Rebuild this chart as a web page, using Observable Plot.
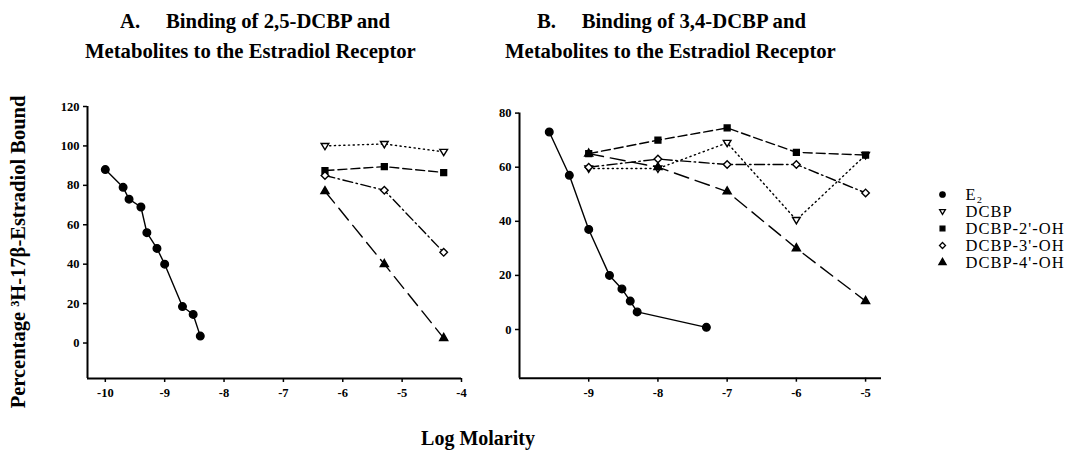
<!DOCTYPE html>
<html><head><meta charset="utf-8">
<script src="https://cdn.jsdelivr.net/npm/d3@7"></script>
<script src="https://cdn.jsdelivr.net/npm/@observablehq/plot@0.6"></script>
<style>
body{margin:0;background:#fff;}
#fig{position:relative;width:1087px;height:458px;font-family:"Liberation Serif","Times New Roman",serif;color:#000;background:#fff;overflow:hidden;}
.t{position:absolute;font-weight:bold;font-size:20px;white-space:pre;line-height:1;}
.title{font-size:22px;transform:scaleX(0.94);transform-origin:0 0;}
</style></head><body><div id="fig"></div>
<script>
// ---- data ----
const seriesNames = ["E2", "DCBP", "DCBP-2'-OH", "DCBP-3'-OH", "DCBP-4'-OH"];
const legendLabels = ["E\u2082", "DCBP", "DCBP-2'-OH", "DCBP-3'-OH", "DCBP-4'-OH"];

// Panel A: 2,5-DCBP
const xA_E2 = [-10, -9.7, -9.6, -9.4, -9.3, -9.13, -9, -8.7, -8.52, -8.4];
const yA_E2 = [88, 79, 73, 69, 56, 48, 40, 18.5, 14.5, 3.5];
const xA_met = [-6.3, -5.3, -4.3];
const yA_DCBP = [100, 101, 97];
const yA_2OH = [87.5, 89.5, 86.5];
const yA_3OH = [85, 77.5, 46];
const yA_4OH = [77, 40, 2.5];

// Panel B: 3,4-DCBP
const xB_E2 = [-9.57, -9.28, -9, -8.7, -8.52, -8.4, -8.3, -7.3];
const yB_E2 = [73, 57, 37, 20, 15, 10.5, 6.5, 0.8];
const xB_met = [-9, -8, -7, -6, -5];
const yB_DCBP = [59.5, 59.5, 69, 40.5, 64.5];
const yB_2OH = [65, 70, 74.5, 65.5, 64.5];
const yB_3OH = [60, 63, 61, 61, 50.5];
const yB_4OH = [65, 60, 51, 30, 10.5];

const ticksAX = [-10, -9, -8, -7, -6, -5, -4];
const ticksAY = [0, 20, 40, 60, 80, 100, 120];
const ticksBX = [-9, -8, -7, -6, -5];
const ticksBY = [0, 20, 40, 60, 80];

// ---- styles ----
const triDown = {
  draw(ctx, size) {
    const s = Math.sqrt(size) * 0.6;
    ctx.moveTo(-s, -s * 0.65);
    ctx.lineTo(s, -s * 0.65);
    ctx.lineTo(0, s * 1.0);
    ctx.closePath();
  }
};
const styles = {
  "E2": {symbol: "circle", fill: "black", dash: null, r: 3.8},
  "DCBP": {symbol: triDown, fill: "white", dash: "1.2,3.5", r: 3.6},
  "DCBP-2'-OH": {symbol: "square", fill: "black", dash: "9,4", r: 3.3},
  "DCBP-3'-OH": {symbol: "diamond2", fill: "white", dash: "10,3.5,1.5,3.5", r: 3.4},
  "DCBP-4'-OH": {symbol: "triangle", fill: "black", dash: "15,7", r: 3.0}
};

const rows = (xs, ys, s) => xs.map((x, i) => ({series: s, x, y: ys[i]}));
const panelA = {
  "E2": rows(xA_E2, yA_E2, "E2"),
  "DCBP": rows(xA_met, yA_DCBP, "DCBP"),
  "DCBP-2'-OH": rows(xA_met, yA_2OH, "DCBP-2'-OH"),
  "DCBP-3'-OH": rows(xA_met, yA_3OH, "DCBP-3'-OH"),
  "DCBP-4'-OH": rows(xA_met, yA_4OH, "DCBP-4'-OH")
};
const panelB = {
  "E2": rows(xB_E2, yB_E2, "E2"),
  "DCBP": rows(xB_met, yB_DCBP, "DCBP"),
  "DCBP-2'-OH": rows(xB_met, yB_2OH, "DCBP-2'-OH"),
  "DCBP-3'-OH": rows(xB_met, yB_3OH, "DCBP-3'-OH"),
  "DCBP-4'-OH": rows(xB_met, yB_4OH, "DCBP-4'-OH")
};

function seriesMarks(panel) {
  const marks = [];
  for (const s of seriesNames) {
    const st = styles[s];
    marks.push(Plot.line(panel[s], {x: "x", y: "y", stroke: "black", strokeWidth: 1.4, strokeDasharray: st.dash}));
  }
  for (const s of seriesNames) {
    const st = styles[s];
    marks.push(Plot.dot(panel[s], {x: "x", y: "y", symbol: st.symbol, r: st.r, fill: st.fill, stroke: "black", strokeWidth: 1.4}));
  }
  return marks;
}

const font = '"Liberation Serif","Times New Roman",serif';
function panelPlot(panel, opts) {
  return Plot.plot({
    width: opts.width, height: opts.height,
    marginLeft: opts.ml, marginRight: opts.mr, marginTop: opts.mt, marginBottom: opts.mb,
    style: {fontFamily: font, fontSize: "12.5px", fontWeight: "bold", background: "transparent", overflow: "visible"},
    x: {domain: opts.xd},
    y: {domain: opts.yd},
    marks: [
      Plot.axisY({ticks: opts.yt, tickSize: 4, tickPadding: 4, label: null, strokeWidth: 1.5, fontSize: 12.5}),
      Plot.axisX({ticks: opts.xt, tickSize: 4, tickPadding: 6, label: null, strokeWidth: 1.5, fontSize: 12.5, tickFormat: d => String(d)}),
      Plot.ruleX([opts.xd[0]], {strokeWidth: 2}),
      Plot.ruleY([opts.yd[0]], {strokeWidth: 2}),
      ...seriesMarks(panel)
    ]
  });
}

const fig = document.getElementById("fig");
function place(el, left, top) {
  el.style.position = "absolute";
  el.style.left = left + "px";
  el.style.top = top + "px";
  fig.appendChild(el);
}

const pA = panelPlot(panelA, {width: 440, height: 310, ml: 47, mr: 19, mt: 10, mb: 28,
  xd: [-10.3, -4], yd: [-18, 120], xt: ticksAX, yt: ticksAY});
place(pA, 40, 96);

const pB = panelPlot(panelB, {width: 420, height: 310, ml: 39, mr: 19, mt: 16.6, mb: 28.3,
  xd: [-10, -4.77], yd: [-18, 80], xt: ticksBX, yt: ticksBY});
place(pB, 480, 96);

// legend
const legendRows = seriesNames.map((s, i) => ({series: s, label: legendLabels[i]}));
const legend = Plot.plot({
  width: 162, height: 120, marginLeft: 17, marginRight: 10, marginTop: 16, marginBottom: 16,
  style: {fontFamily: font, background: "transparent", overflow: "visible", letterSpacing: "1px"},
  x: {domain: [0, 1], axis: null},
  y: {type: "point", domain: seriesNames, axis: null},
  symbol: {domain: seriesNames, range: seriesNames.map(s => styles[s].symbol)},
  marks: [
    Plot.dot(legendRows, {x: () => 0, y: "series", symbol: "series", r: 2.7, stroke: "black", strokeWidth: 1.3,
      fill: d => styles[d.series].fill}),
    Plot.text(legendRows, {x: () => 0, y: "series", text: "label", dx: 23, textAnchor: "start", fontSize: 16.5, fill: "black"})
  ]
});
place(legend, 925, 168);

// titles
function addText(txt, left, top, cls, extra) {
  const d = document.createElement("div");
  d.className = cls;
  d.textContent = txt;
  d.style.left = left + "px";
  d.style.top = top + "px";
  if (extra) Object.assign(d.style, extra);
  fig.appendChild(d);
  return d;
}
addText("A.     Binding of 2,5-DCBP and", 120, 10, "t title");
addText("Metabolites to the Estradiol Receptor", 85, 40, "t title");
addText("B.     Binding of 3,4-DCBP and", 537, 10, "t title");
addText("Metabolites to the Estradiol Receptor", 505, 40, "t title");
addText("Log Molarity", 478, 428, "t", {transform: "translateX(-50%)"});
addText("Percentage \u00B3H-17\u03B2-Estradiol Bound", 18, 252, "t",
  {fontSize: "20.5px", transform: "translate(-50%,-50%) rotate(-90deg)"});
</script>
</body></html>
